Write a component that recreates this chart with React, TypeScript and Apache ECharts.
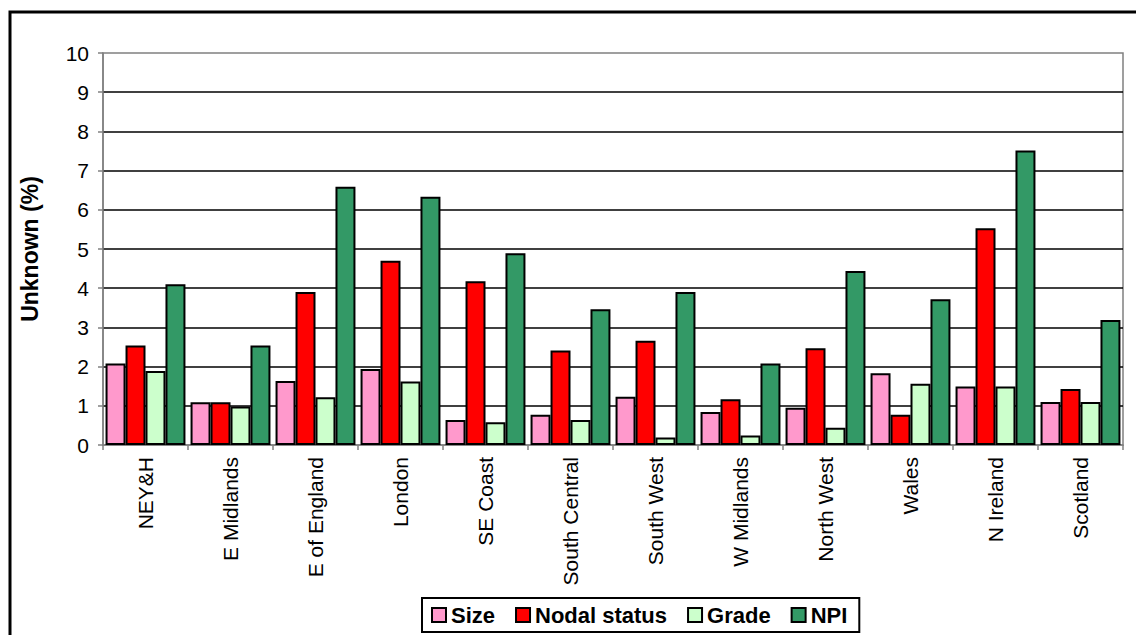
import React, { useEffect, useRef } from "react";
import * as echarts from "echarts";

const categories = [
  "NEY&H", "E Midlands", "E of England", "London", "SE Coast", "South Central",
  "South West", "W Midlands", "North West", "Wales", "N Ireland", "Scotland",
];
const sizeValues = [2.08, 1.09, 1.63, 1.94, 0.64, 0.77, 1.23, 0.84, 0.95, 1.83, 1.49, 1.10];
const nodalValues = [2.54, 1.09, 3.90, 4.70, 4.18, 2.41, 2.66, 1.17, 2.47, 0.77, 5.53, 1.43];
const gradeValues = [1.89, 0.98, 1.22, 1.62, 0.58, 0.64, 0.19, 0.24, 0.44, 1.56, 1.49, 1.10];
const npiValues = [4.10, 2.54, 6.59, 6.33, 4.89, 3.46, 3.90, 2.08, 4.44, 3.72, 7.51, 3.19];
const yTicks = { min: 0, max: 10, interval: 1 };

const FONT = "'Liberation Sans', Arial, sans-serif";

export default function App() {
  const ref = useRef<HTMLDivElement>(null);
  useEffect(() => {
    if (!ref.current) return;
    const chart = echarts.init(ref.current, undefined, { renderer: "svg" });
    const mk = (name: string, data: number[], color: string) => ({
      name,
      type: "bar",
      data,
      barGap: "0%",
      barCategoryGap: "6%",
      itemStyle: { color, borderColor: "#000", borderWidth: 2 },
    });
    chart.setOption({
      animation: false,
      backgroundColor: "#fff",
      textStyle: { fontFamily: FONT },
      graphic: [
        {
          type: "rect",
          shape: { x: 10, y: 12, width: 1200, height: 700 },
          style: { fill: "none", stroke: "#000", lineWidth: 3 },
          silent: true,
        },
      ],
      grid: {
        left: 103,
        right: 13,
        top: 53,
        bottom: 190,
        show: true,
        borderColor: "#808080",
        borderWidth: 1.5,
        backgroundColor: "transparent",
      },
      legend: {
        left: 422,
        top: 598,
        padding: [6, 12, 6, 9],
        borderColor: "#000",
        borderWidth: 2,
        backgroundColor: "#fff",
        itemWidth: 14,
        itemHeight: 14,
        itemGap: 20,
        icon: "rect",
        textStyle: { fontFamily: FONT, fontSize: 22, fontWeight: "bold", color: "#000" },
        data: ["Size", "Nodal status", "Grade", "NPI"],
      },
      xAxis: {
        type: "category",
        data: categories,
        axisLine: { lineStyle: { color: "#808080", width: 1.5 } },
        axisTick: { show: true, length: 5, lineStyle: { color: "#808080", width: 1.5 } },
        axisLabel: {
          rotate: 90,
          interval: 0,
          fontSize: 21,
          color: "#000",
          fontFamily: FONT,
          margin: 12,
        },
      },
      yAxis: {
        type: "value",
        min: yTicks.min,
        max: yTicks.max,
        interval: yTicks.interval,
        name: "Unknown (%)",
        nameLocation: "middle",
        nameGap: 62,
        nameTextStyle: { fontSize: 23, fontWeight: "bold", color: "#000", fontFamily: FONT },
        axisLine: { show: true, lineStyle: { color: "#808080", width: 1.5 } },
        axisTick: { show: true, length: 5, lineStyle: { color: "#808080", width: 1.5 } },
        axisLabel: { fontSize: 21, color: "#000", fontFamily: FONT, margin: 14 },
        splitLine: {
          show: true,
          showMinLine: false,
          showMaxLine: false,
          lineStyle: { color: "#000", width: 1.6 },
        },
      },
      series: [
        mk("Size", sizeValues, "#FF99CC"),
        mk("Nodal status", nodalValues, "#FF0000"),
        mk("Grade", gradeValues, "#CCFFCC"),
        mk("NPI", npiValues, "#339966"),
      ],
    });
    return () => chart.dispose();
  }, []);
  return (
    <div
      ref={ref}
      style={{ position: "absolute", left: 0, top: 0, width: 1136, height: 635 }}
    />
  );
}
